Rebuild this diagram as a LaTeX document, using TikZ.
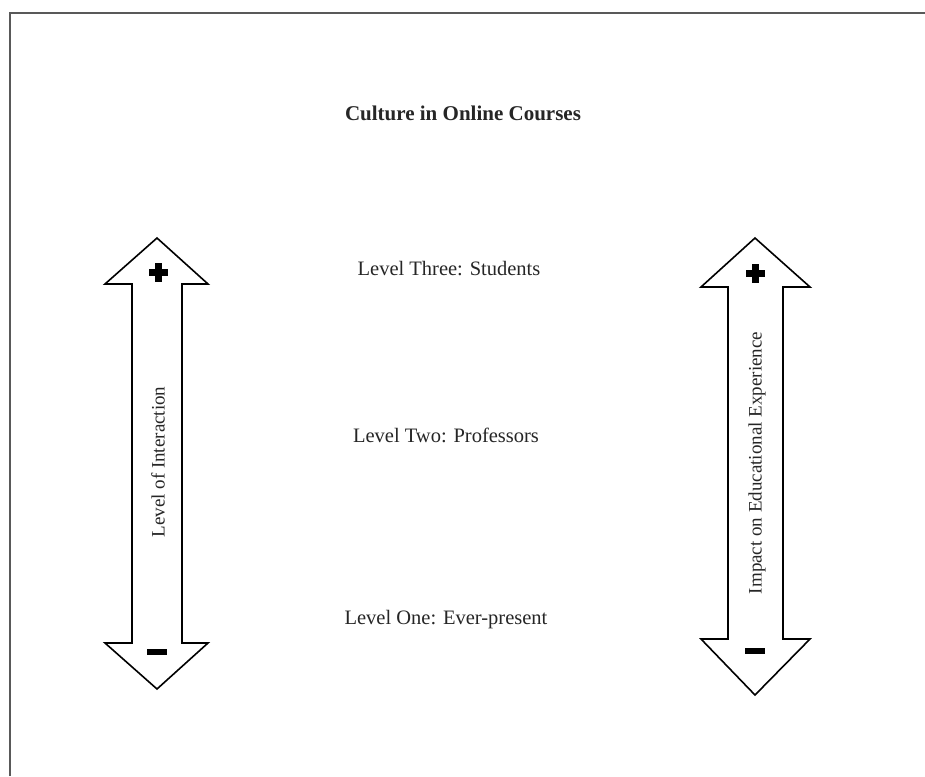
\documentclass[tikz,border=0pt]{standalone}
\usepackage{fontspec}
\setmainfont{Liberation Serif}
\begin{document}
\begin{tikzpicture}[x=1pt,y=-1pt,
  outline/.style={draw=black,line width=1.6pt,line join=miter,fill=white},
  lbl/.style={font=\fontsize{20.5}{24}\selectfont,text=black!85,inner sep=0pt},
  vlbl/.style={font=\fontsize{19}{22}\selectfont,text=black!85,inner sep=0pt,rotate=90},
  sign/.style={fill=black}]
\useasboundingbox (0,0) rectangle (925,776);
\fill[white] (0,0) rectangle (925,776);
% frame
\draw[black!65,line width=2pt] (10,776) -- (10,13) -- (925,13);
% title
\node[lbl,font=\bfseries\fontsize{21}{24}\selectfont] (title) at (463,113) {Culture in Online Courses};
% level labels
\node[lbl] (l3) at (449,269) {Level Three: Students};
\node[lbl] (l2) at (446,435) {Level Two: Professors};
\node[lbl] (l1) at (446,620) {Level One: Ever-present};
% left arrow
\draw[outline] (157,238) -- (208,284) -- (182,284) -- (182,643) -- (208,643) -- (157,689)
  -- (105,643) -- (132,643) -- (132,284) -- (105,284) -- cycle;
\node[vlbl] (la) at (158,462) {Level of Interaction};
\fill[sign] (154.5,263) rectangle (161.5,282);
\fill[sign] (148.5,269) rectangle (167.5,276);
\fill[sign] (147,649) rectangle (167,655);
% right arrow
\draw[outline] (755,238) -- (810,287) -- (783,287) -- (783,639) -- (810,639) -- (755,695)
  -- (701,639) -- (728,639) -- (728,287) -- (701,287) -- cycle;
\node[vlbl] (ra) at (757,463) {Impact on Educational Experience};
\fill[sign] (751.5,264) rectangle (758.5,283);
\fill[sign] (745.5,270) rectangle (764.5,277);
\fill[sign] (745,648) rectangle (765,654);
\end{tikzpicture}
\end{document}
